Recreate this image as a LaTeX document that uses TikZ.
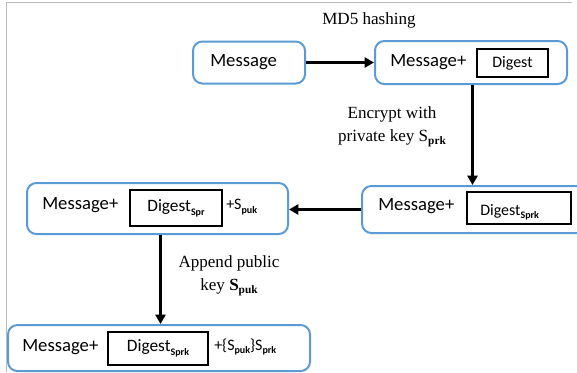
\documentclass[tikz,border=0pt]{standalone}
\usepackage{fontspec}
\setmainfont{Liberation Serif}
\newfontfamily\boxfont{Carlito}
\usetikzlibrary{arrows.meta,calc}
\newcommand\lowsub[1]{\raisebox{-0.45ex}{\fontsize{7.5}{8}\selectfont\bfseries #1}}
\newcommand\serifsub[1]{\raisebox{-0.4ex}{\fontsize{8.5}{8.5}\selectfont\bfseries #1}}
\definecolor{boxblue}{HTML}{5B9BD5}
\definecolor{framegray}{HTML}{BBBBBB}
\tikzset{
  stagebox/.style={draw=boxblue, line width=1.5pt, rounded corners=7pt, fill=white,
    inner sep=0pt},
  digestbox/.style={draw=black, line width=0.9pt, inner sep=0pt, font=\boxfont\fontsize{12}{14}\selectfont},
  boxtext/.style={anchor=west, inner sep=0pt, font=\boxfont\fontsize{14}{16}\selectfont},
  flow/.style={line width=2pt, -{Triangle[length=7pt,width=7.5pt]}},
  steplabel/.style={align=center, inner sep=0pt, font=\fontsize{12.8}{17}\selectfont}
}
\begin{document}
\begin{tikzpicture}[x=0.75pt,y=-0.75pt]
  \useasboundingbox (0,0) rectangle (577,372);
  \clip (0,0) rectangle (577,372);
  \fill[white] (0,0) rectangle (577,372);
  % page frame
  \draw[framegray, line width=0.8pt] (6.5,372) -- (6.5,2.5) -- (572,2.5);

  % stage boxes
  \node[stagebox, minimum width=112*0.75pt, minimum height=42*0.75pt] (b1) at (249,62.5) {};
  \node[stagebox, minimum width=192*0.75pt, minimum height=43*0.75pt] (b2) at (471,62.5) {};
  \node[stagebox, minimum width=261*0.75pt, minimum height=51*0.75pt] (b3) at (157.5,208.5) {};
  \node[stagebox, minimum width=240*0.75pt, minimum height=47*0.75pt] (b4) at (482,209.5) {};
  \node[stagebox, minimum width=302*0.75pt, minimum height=46*0.75pt] (b5) at (159,348) {};

  % box 1
  \node[boxtext] (t1) at (210,62) {Message};
  % box 2
  \node[boxtext] (t2) at (390,62) {Message+};
  \node[digestbox, minimum width=71*0.75pt, minimum height=28*0.75pt] (d2) at (512.5,63) {Digest};
  % box 3
  \node[boxtext] (t3) at (42,205) {Message+};
  \node[digestbox, minimum width=92*0.75pt, minimum height=36*0.75pt,
        font=\boxfont\fontsize{13}{15}\selectfont] (d3) at (176,208) {Digest\lowsub{Spr}};
  \node[boxtext, font=\boxfont\fontsize{12}{14}\selectfont] (p3) at (226,207) {+S\lowsub{puk}};
  % box 4
  \node[boxtext] (t4) at (378,206) {Message+};
  \node[digestbox, minimum width=104*0.75pt, minimum height=32*0.75pt] (d4) at (519,208) {};
  \node[boxtext, font=\boxfont\fontsize{12}{14}\selectfont] (s4) at (480,212) {Digest\lowsub{Sprk}};
  % box 5
  \node[boxtext] (t5) at (22,347) {Message+};
  \node[digestbox, minimum width=100*0.75pt, minimum height=33*0.75pt,
        font=\boxfont\fontsize{13}{15}\selectfont] (d5) at (158,348.5) {Digest\lowsub{Sprk}};
  \node[boxtext, font=\boxfont\fontsize{12}{14}\selectfont] (p5) at (214,347) {+\{S\lowsub{puk}\}S\lowsub{prk}};

  % connectors
  \draw[flow] (b1.east) -- (b2.west |- b1.east);
  \draw[flow] ($(b2.south)+(1.5,0)$) -- ($(b2.south |- b4.north)+(1.5,0)$);
  \draw[flow] (b4.west) -- (b4.west -| b3.east);
  \draw[flow] ($(b3.south)+(3,0)$) -- ($(b3.south |- b5.north)+(3,0)$);

  % step labels
  \node[steplabel] (l1) at (369,20) {MD5 hashing};
  \node[steplabel] (l2) at (392,127) {Encrypt with\\private key S\serifsub{prk}};
  \node[steplabel] (l3) at (229,276) {Append public\\key \textbf{S}\serifsub{puk}};
\end{tikzpicture}
\end{document}
